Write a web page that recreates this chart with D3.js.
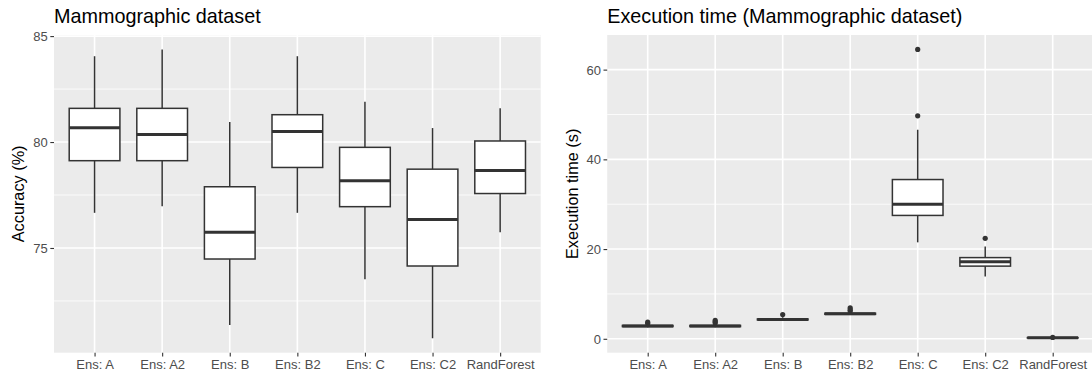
<!DOCTYPE html>
<html><head><meta charset="utf-8">
<script src="https://cdn.jsdelivr.net/npm/d3@7"></script>
<style>
body{margin:0;background:#fff;}
svg text{font-family:"Liberation Sans",Arial,sans-serif;}
</style></head>
<body><svg id="c" width="1092" height="378"></svg>
<script>
const categories = ["Ens: A","Ens: A2","Ens: B","Ens: B2","Ens: C","Ens: C2","RandForest"];

// Accuracy (%) box statistics
const accWhiskerLow  = [76.66, 76.97, 71.37, 76.66, 73.53, 70.74, 75.74];
const accQ1          = [79.12, 79.12, 74.48, 78.80, 76.95, 74.15, 77.57];
const accMedian      = [80.68, 80.36, 75.74, 80.50, 78.17, 76.34, 78.66];
const accQ3          = [81.59, 81.59, 77.89, 81.29, 79.75, 78.72, 80.05];
const accWhiskerHigh = [84.05, 84.37, 80.95, 84.05, 81.90, 80.66, 81.59];
const accOutliers    = [[], [], [], [], [], [], []];
const accTicks = [75, 80, 85];
const accMinor = [72.5, 77.5, 82.5];

// Execution time (s) box statistics
const timeWhiskerLow  = [2.55, 2.55, 4.0, 5.3, 21.5, 13.9, 0.12];
const timeQ1          = [2.72, 2.72, 4.2, 5.45, 27.5, 16.2, 0.18];
const timeMedian      = [2.85, 2.85, 4.3, 5.57, 30.0, 17.2, 0.22];
const timeQ3          = [2.98, 2.98, 4.42, 5.70, 35.5, 18.1, 0.27];
const timeWhiskerHigh = [3.2, 3.2, 4.8, 6.0, 46.6, 20.6, 0.33];
const timeOutliers    = [[3.4, 3.7], [3.5, 3.8, 4.1], [5.4], [6.2, 6.5, 6.9], [49.7, 64.5], [22.4], [0.3]];
const timeTicks = [0, 20, 40, 60];
const timeMinor = [10, 30, 50];

const svg = d3.select("#c");
const BOX = "#333333";

function panel(opt){
  const {x0,x1,y0,y1,title,ylab,ylabX,lo,q1,med,q3,hi,out,ticks,minor} = opt;
  const g = svg.append("g");
  const all = lo.concat(hi, out.flat());
  const mn = d3.min(all), mx = d3.max(all), r = mx - mn;
  const y = d3.scaleLinear().domain([mn - 0.05*r, mx + 0.05*r]).range([y1, y0]);
  const x = d3.scalePoint().domain(categories).range([x0, x1]).padding(0.6);
  const bw = x.step()*0.75;

  g.append("rect").attr("x",x0).attr("y",y0).attr("width",x1-x0).attr("height",y1-y0).attr("fill","#EBEBEB");
  g.selectAll(".mn").data(minor).join("line")
    .attr("x1",x0).attr("x2",x1).attr("y1",d=>y(d)).attr("y2",d=>y(d))
    .attr("stroke","#fff").attr("stroke-width",0.8);
  g.selectAll(".mj").data(ticks).join("line")
    .attr("x1",x0).attr("x2",x1).attr("y1",d=>y(d)).attr("y2",d=>y(d))
    .attr("stroke","#fff").attr("stroke-width",1.6);
  g.selectAll(".vx").data(categories).join("line")
    .attr("x1",d=>x(d)).attr("x2",d=>x(d)).attr("y1",y0).attr("y2",y1)
    .attr("stroke","#fff").attr("stroke-width",1.6);

  const bx = g.selectAll(".b").data(categories).join("g");
  bx.append("line").attr("x1",d=>x(d)).attr("x2",d=>x(d))
    .attr("y1",(d,i)=>y(hi[i])).attr("y2",(d,i)=>y(q3[i])).attr("stroke",BOX).attr("stroke-width",1.5);
  bx.append("line").attr("x1",d=>x(d)).attr("x2",d=>x(d))
    .attr("y1",(d,i)=>y(q1[i])).attr("y2",(d,i)=>y(lo[i])).attr("stroke",BOX).attr("stroke-width",1.5);
  bx.append("rect").attr("x",d=>x(d)-bw/2).attr("width",bw)
    .attr("y",(d,i)=>y(q3[i])).attr("height",(d,i)=>y(q1[i])-y(q3[i]))
    .attr("fill","#fff").attr("stroke",BOX).attr("stroke-width",1.5);
  bx.append("line").attr("x1",d=>x(d)-bw/2).attr("x2",d=>x(d)+bw/2)
    .attr("y1",(d,i)=>y(med[i])).attr("y2",(d,i)=>y(med[i])).attr("stroke",BOX).attr("stroke-width",3);
  bx.each(function(d,i){
    d3.select(this).selectAll("circle").data(out[i]).join("circle")
      .attr("cx",x(d)).attr("cy",v=>y(v)).attr("r",2.6).attr("fill",BOX);
  });

  const ya = g.append("g").attr("transform",`translate(${x0},0)`)
    .call(d3.axisLeft(y).tickValues(ticks).tickSize(3.7).tickPadding(2.5).tickFormat(d3.format("d")));
  ya.select(".domain").remove();
  ya.selectAll("line").attr("stroke",BOX).attr("stroke-width",1.1);
  ya.selectAll("text").attr("fill","#4D4D4D").style("font-size","13px").attr("dy","0.34em");

  const xa = g.append("g").attr("transform",`translate(0,${y1})`)
    .call(d3.axisBottom(x).tickSize(3.7).tickPadding(3));
  xa.select(".domain").remove();
  xa.selectAll("line").attr("stroke",BOX).attr("stroke-width",1.1);
  xa.selectAll("text").attr("fill","#4D4D4D").style("font-size","13px");

  svg.append("text").attr("x",x0).attr("y",23).text(title)
    .style("font-size","19.8px").attr("fill","#000");
  svg.append("text").attr("transform",`translate(${ylabX},${(y0+y1)/2}) rotate(-90)`)
    .attr("text-anchor","middle").text(ylab).style("font-size","16.3px").attr("fill","#000");
}

panel({x0:54,x1:540.7,y0:35,y1:352.7,title:"Mammographic dataset",ylab:"Accuracy (%)",ylabX:24,
  lo:accWhiskerLow,q1:accQ1,med:accMedian,q3:accQ3,hi:accWhiskerHigh,out:accOutliers,ticks:accTicks,minor:accMinor});
panel({x0:607.2,x1:1093.2,y0:35,y1:352.7,title:"Execution time (Mammographic dataset)",ylab:"Execution time (s)",ylabX:578,
  lo:timeWhiskerLow,q1:timeQ1,med:timeMedian,q3:timeQ3,hi:timeWhiskerHigh,out:timeOutliers,ticks:timeTicks,minor:timeMinor});
</script></body></html>
